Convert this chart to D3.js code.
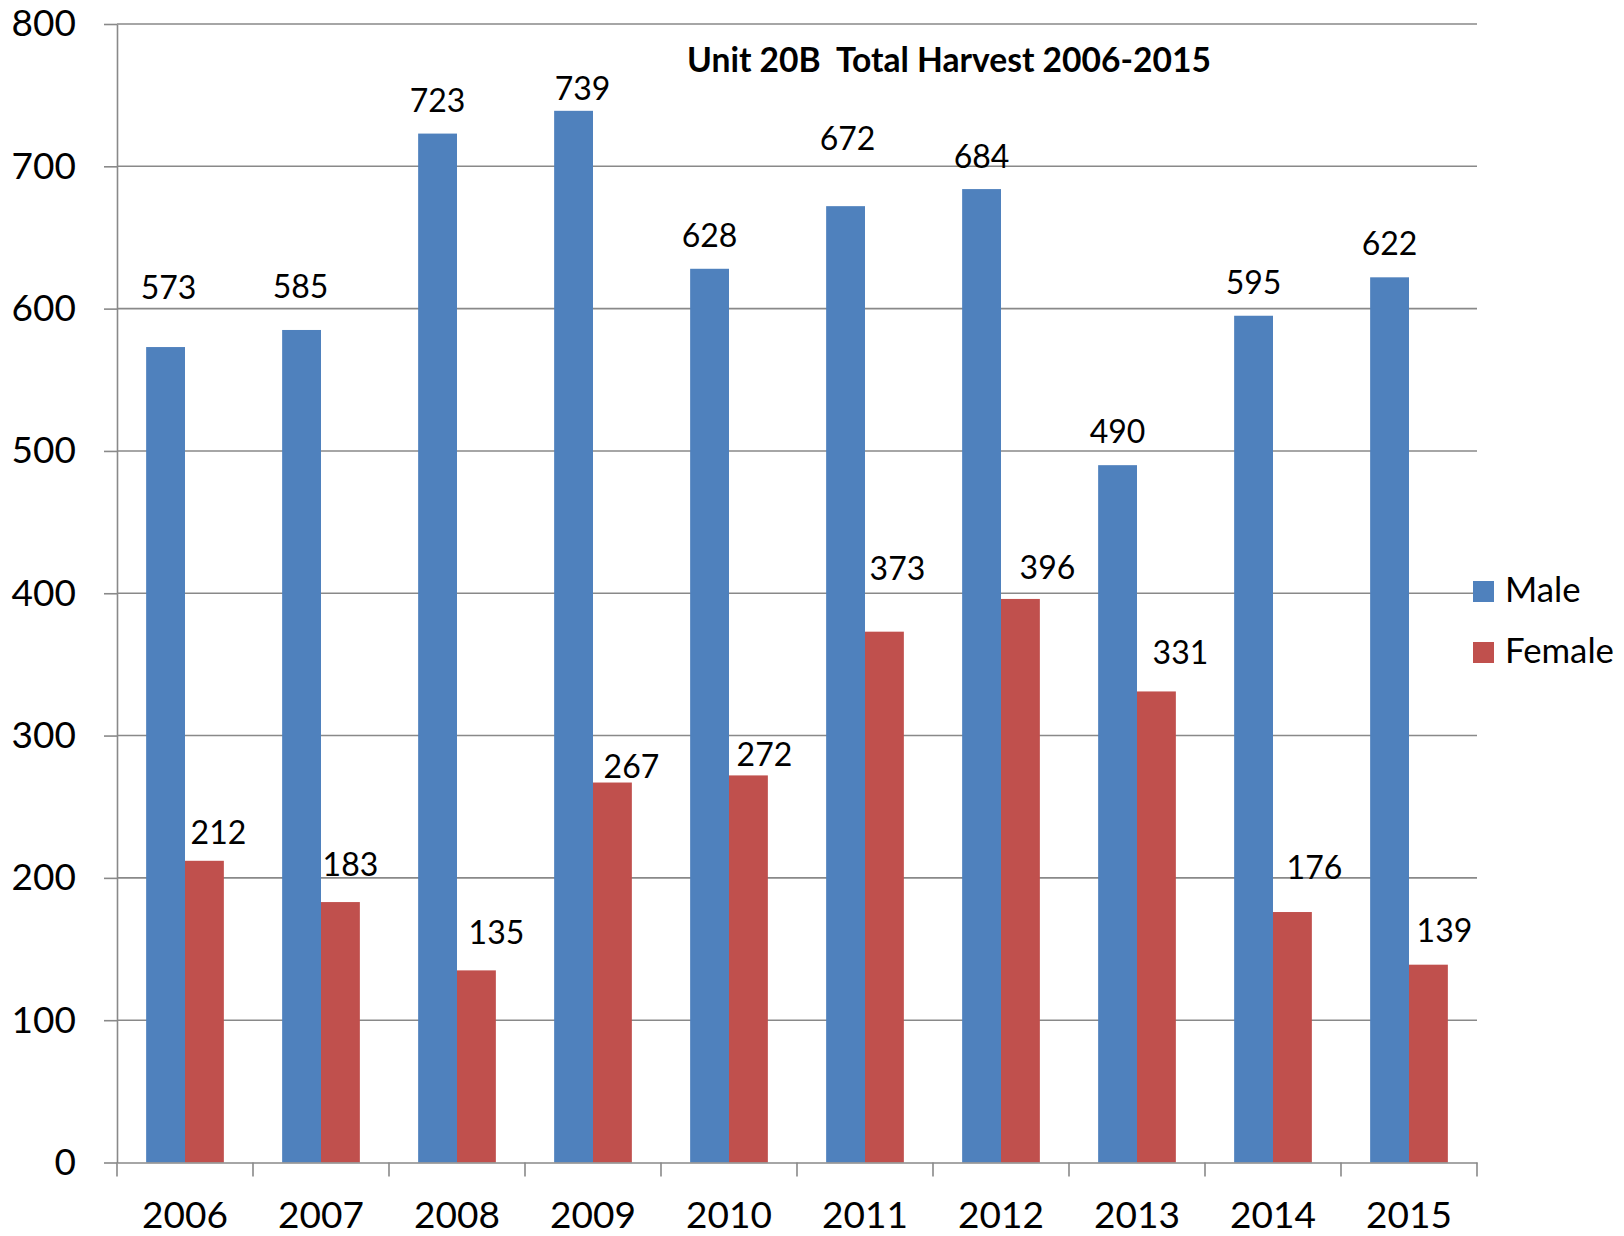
<!DOCTYPE html>
<html>
<head>
<meta charset="utf-8">
<script src="https://cdn.jsdelivr.net/npm/d3@7"></script>
<style>
  html, body { margin: 0; padding: 0; background: #fff; }
  svg { display: block; }
  text { font-family: Lato, "Open Sans", sans-serif; fill: #000; }
</style>
</head>
<body>
<svg id="chart" width="1624" height="1236"></svg>
<script>
// ---- data ----
const years = ["2006","2007","2008","2009","2010","2011","2012","2013","2014","2015"];
const male = [573, 585, 723, 739, 628, 672, 684, 490, 595, 622];
const female = [212, 183, 135, 267, 272, 373, 396, 331, 176, 139];
const seriesNames = ["Male", "Female"];
const yTickValues = [0, 100, 200, 300, 400, 500, 600, 700, 800];
const titleText = "Unit 20B  Total Harvest 2006-2015";

// ---- layout / style ----
const colors = { Male: "#4F81BD", Female: "#C0504D" };
const gridColor = "#898989";
const plot = { left: 117, right: 1477, top: 24, bottom: 1162.5 };
const labelFont = 32, tickFont = 37;
// manual nudges of the data labels (label centre relative to bar top centre)
const labelNudge = {
  Male:   { dx: [3, -1, 0, 9, 0, 2, 0, 0, 0, 0],
            dy: [-60, -43, -33, -22, -33, -68, -33, -34, -33, -34] },
  Female: { dx: [14, 10, 20, 19, 16, 13, 27, 24, 22, 16],
            dy: [-28, -38, -38, -16, -21, -63, -31, -39, -45, -34] }
};

const svg = d3.select("#chart");
const values = { Male: male, Female: female };

const x0 = d3.scaleBand().domain(years).range([plot.left, plot.right]).padding(0);
const x1 = d3.scaleBand().domain(seriesNames).range([0, x0.bandwidth()])
  .paddingInner(0).paddingOuter(0.75);
const y = d3.scaleLinear().domain([0, 800]).range([plot.bottom, plot.top]);

// gridlines
svg.append("g").selectAll("line").data(yTickValues.filter(v => v > 0)).join("line")
  .attr("x1", plot.left).attr("x2", plot.right)
  .attr("y1", d => y(d)).attr("y2", d => y(d))
  .attr("stroke", gridColor).attr("stroke-width", 1.6);

// y axis
const yAxis = svg.append("g").attr("transform", `translate(${plot.left},0)`)
  .call(d3.axisLeft(y).tickValues(yTickValues).tickSize(13).tickPadding(28).tickSizeOuter(0));
yAxis.select(".domain").attr("stroke", gridColor).attr("stroke-width", 1.6);
yAxis.selectAll(".tick line").attr("stroke", gridColor).attr("stroke-width", 1.6);
yAxis.selectAll(".tick text").style("font-size", tickFont + "px")
  .style("font-family", 'Lato, "Open Sans", sans-serif').attr("fill", "#000");

// bars
const groups = svg.append("g").selectAll("g").data(years).join("g")
  .attr("transform", d => `translate(${x0(d)},0)`);
groups.selectAll("rect")
  .data((d, i) => seriesNames.map(s => ({ s, v: values[s][i], i })))
  .join("rect")
  .attr("x", d => x1(d.s))
  .attr("width", x1.bandwidth())
  .attr("y", d => y(d.v))
  .attr("height", d => y(0) - y(d.v))
  .attr("fill", d => colors[d.s]);

// x axis
const xAxis = svg.append("g").attr("transform", `translate(0,${plot.bottom})`)
  .call(d3.axisBottom(x0).tickSize(0).tickPadding(39).tickSizeOuter(0));
xAxis.select(".domain").attr("stroke", gridColor).attr("stroke-width", 1.6);
xAxis.selectAll(".tick text").style("font-size", tickFont + "px")
  .style("font-family", 'Lato, "Open Sans", sans-serif').attr("fill", "#000");
// boundary ticks
const bounds = years.map(d => x0(d)).concat([plot.right]);
xAxis.append("g").selectAll("line").data(bounds).join("line")
  .attr("x1", d => d).attr("x2", d => d)
  .attr("y1", 0).attr("y2", 14)
  .attr("stroke", gridColor).attr("stroke-width", 1.6);

// data labels
groups.selectAll("text.lbl")
  .data((d, i) => seriesNames.map(s => ({ s, v: values[s][i], i })))
  .join("text").attr("class", "lbl")
  .attr("x", d => x1(d.s) + x1.bandwidth() / 2 + labelNudge[d.s].dx[d.i])
  .attr("y", d => y(d.v) + labelNudge[d.s].dy[d.i] + 0.36 * labelFont)
  .attr("text-anchor", "middle")
  .style("font-size", labelFont + "px")
  .text(d => d.v);

// title
const title = svg.append("text")
  .attr("x", 949).attr("y", 72)
  .attr("text-anchor", "middle")
  .attr("xml:space", "preserve")
  .style("white-space", "pre")
  .style("font-weight", "bold")
  .style("font-size", "30px")
  .text(titleText);
const tw = title.node().getComputedTextLength();
title.style("font-size", (30 * 524 / tw) + "px");

// legend
const legend = svg.append("g").selectAll("g").data(seriesNames).join("g")
  .attr("transform", (d, i) => `translate(1473,${581 + i * 61})`);
legend.append("rect").attr("width", 21).attr("height", 21).attr("fill", d => colors[d]);
const legText = legend.append("text").attr("x", 32).attr("y", 21)
  .style("font-size", "34px").text(d => d);
// size legend text so "Female" spans the same width as in the reference
const fw = legText.filter(d => d === "Female").node().getComputedTextLength();
legText.style("font-size", (34 * 109 / fw) + "px");
</script>
</body>
</html>
